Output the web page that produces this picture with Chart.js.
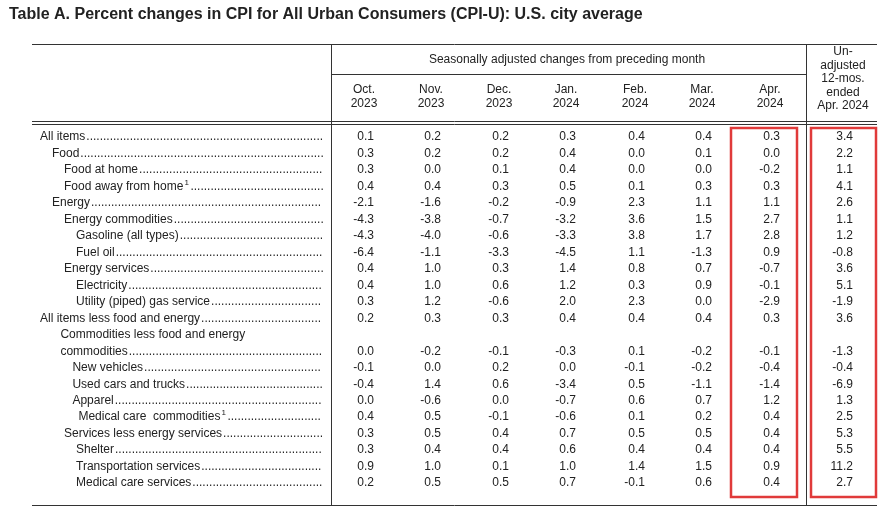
<!DOCTYPE html>
<html><head><meta charset="utf-8">
<script src="https://cdn.jsdelivr.net/npm/chart.js@4"></script>
<style>body{margin:0;background:#fff}</style>
</head><body>
<canvas id="c" width="887" height="522"></canvas>
<script>
// table data
const rowLabels = ["All items", "Food", "Food at home", "Food away from home", "Energy", "Energy commodities",
  "Gasoline (all types)", "Fuel oil", "Energy services", "Electricity", "Utility (piped) gas service",
  "All items less food and energy", "Commodities less food and energy", "commodities", "New vehicles",
  "Used cars and trucks", "Apparel", "Medical care  commodities", "Services less energy services",
  "Shelter", "Transportation services", "Medical care services"];
const rowNotes = [0,0,0,1,0,0,0,0,0,0,0,0,0,0,0,0,0,1,0,0,0,0];
const rowIndent = [0,1,2,2,1,2,3,3,2,3,3,0,1.7,1.7,2.7,2.7,2.7,3.2,2,3,3,3];
const colHeads = [["Oct.","2023"],["Nov.","2023"],["Dec.","2023"],["Jan.","2024"],["Feb.","2024"],["Mar.","2024"],["Apr.","2024"]];
const unadjHead = ["Un-","adjusted","12-mos.","ended","Apr. 2024"];
const oct23 = [0.1,0.3,0.3,0.4,-2.1,-4.3,-4.3,-6.4,0.4,0.4,0.3,0.2,null,0.0,-0.1,-0.4,0.0,0.4,0.3,0.3,0.9,0.2];
const nov23 = [0.2,0.2,0.0,0.4,-1.6,-3.8,-4.0,-1.1,1.0,1.0,1.2,0.3,null,-0.2,0.0,1.4,-0.6,0.5,0.5,0.4,1.0,0.5];
const dec23 = [0.2,0.2,0.1,0.3,-0.2,-0.7,-0.6,-3.3,0.3,0.6,-0.6,0.3,null,-0.1,0.2,0.6,0.0,-0.1,0.4,0.4,0.1,0.5];
const jan24 = [0.3,0.4,0.4,0.5,-0.9,-3.2,-3.3,-4.5,1.4,1.2,2.0,0.4,null,-0.3,0.0,-3.4,-0.7,-0.6,0.7,0.6,1.0,0.7];
const feb24 = [0.4,0.0,0.0,0.1,2.3,3.6,3.8,1.1,0.8,0.3,2.3,0.4,null,0.1,-0.1,0.5,0.6,0.1,0.5,0.4,1.4,-0.1];
const mar24 = [0.4,0.1,0.0,0.3,1.1,1.5,1.7,-1.3,0.7,0.9,0.0,0.4,null,-0.2,-0.2,-1.1,0.7,0.2,0.5,0.4,1.5,0.6];
const apr24 = [0.3,0.0,-0.2,0.3,1.1,2.7,2.8,0.9,-0.7,-0.1,-2.9,0.3,null,-0.1,-0.4,-1.4,1.2,0.4,0.4,0.4,0.9,0.4];
const unadj12 = [3.4,2.2,1.1,4.1,2.6,1.1,1.2,-0.8,3.6,5.1,-1.9,3.6,null,-1.3,-0.4,-6.9,1.3,2.5,5.3,5.5,11.2,2.7];

const series = [oct23, nov23, dec23, jan24, feb24, mar24, apr24, unadj12];
const colX = [364, 431, 499, 566, 635, 702, 770, 843];

const datasets = series.map((vals, ci) => ({
  data: vals.map((v, ri) => ({ x: colX[ci], y: ri, v })).filter(p => p.v !== null),
  pointRadius: 0, showLine: false
}));

const FONT = "Arial, 'Liberation Sans', sans-serif";

const tablePlugin = {
  id: "table",
  afterDraw(chart) {
    const ctx = chart.ctx, xs = chart.scales.x, ys = chart.scales.y;
    const X = v => xs.getPixelForValue(v), Y = v => ys.getPixelForValue(v);
    ctx.save();
    ctx.fillStyle = "#222";
    ctx.font = "bold 16px " + FONT;
    ctx.textBaseline = "middle";
    ctx.textAlign = "left";
    ctx.fillText("Table A. Percent changes in CPI for All Urban Consumers (CPI-U): U.S. city average", X(9), 15);

    ctx.strokeStyle = "#333"; ctx.lineWidth = 1;
    const line = (x1, y1, x2, y2) => { ctx.beginPath(); ctx.moveTo(x1, y1); ctx.lineTo(x2, y2); ctx.stroke(); };
    line(X(32), 44.5, X(877), 44.5);
    line(X(331), 74.5, X(806), 74.5);
    line(X(32), 121.5, X(877), 121.5);
    line(X(32), 124.5, X(877), 124.5);
    line(X(32), 505.5, X(877), 505.5);
    line(X(331) + 0.5, 44, X(331) + 0.5, 505);
    line(X(806) + 0.5, 44, X(806) + 0.5, 505);

    ctx.font = "12px " + FONT;
    ctx.textAlign = "center";
    ctx.fillText("Seasonally adjusted changes from preceding month", X(567), 60);
    colHeads.forEach((h, i) => { ctx.fillText(h[0], X(colX[i]), 90); ctx.fillText(h[1], X(colX[i]), 104); });
    unadjHead.forEach((t, i) => ctx.fillText(t, X(843), 52 + i * 13.5));

    // row labels with dot leaders
    rowLabels.forEach((lab, ri) => {
      const y = Y(ri);
      ctx.textAlign = "left";
      ctx.font = "12px " + FONT;
      const x0 = X(40 + rowIndent[ri] * 12);
      ctx.fillText(lab, x0, y);
      let end = x0 + ctx.measureText(lab).width;
      if (rowNotes[ri]) { ctx.font = "8px " + FONT; ctx.fillText("1", end + 1, y - 4); end += 6; ctx.font = "12px " + FONT; }
      if (ri !== 12) {
        let dots = "";
        while (ctx.measureText(dots + ".").width < X(325) - end - 2) dots += ".";
        ctx.fillText(dots, end + 1, y);
      }
    });

    // values
    ctx.textAlign = "right";
    chart.data.datasets.forEach(ds => ds.data.forEach(p => {
      ctx.fillText(p.v.toFixed(1), X(p.x) + 10, Y(p.y));
    }));

    // highlight boxes
    ctx.strokeStyle = "#e03a3a"; ctx.lineWidth = 2.5;
    ctx.strokeRect(X(731), 128, X(797) - X(731), 369);
    ctx.strokeRect(X(811), 128, X(876) - X(811), 369);
    ctx.restore();
  }
};

new Chart(document.getElementById("c"), {
  type: "scatter",
  data: { datasets },
  options: {
    responsive: false, animation: false,
    layout: { padding: 0 },
    plugins: { legend: { display: false }, tooltip: { enabled: false } },
    scales: {
      x: { type: "linear", display: false, min: 0, max: 887 },
      y: { type: "linear", display: false, reverse: true, min: -8.31, max: 23.36 }
    }
  },
  plugins: [tablePlugin]
});
</script>
</body></html>
